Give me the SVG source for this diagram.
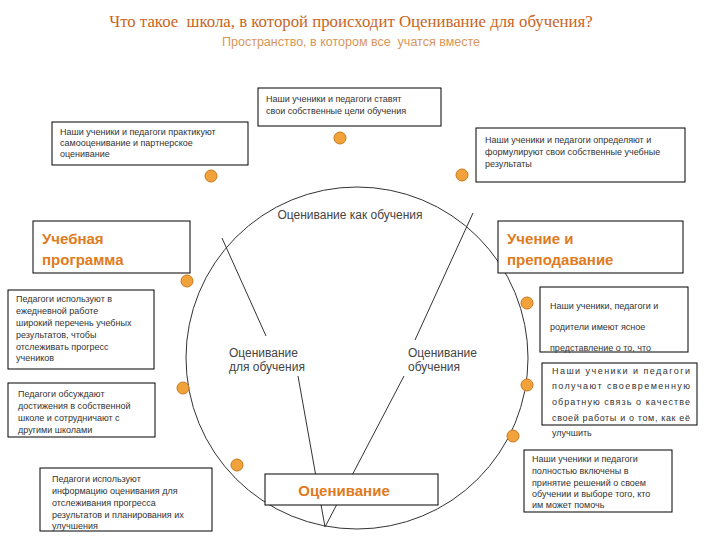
<svg xmlns="http://www.w3.org/2000/svg" width="720" height="540" viewBox="0 0 720 540">
<style>
.box{fill:#fff;stroke:#000;stroke-width:1}
.t{font-family:"Liberation Sans",Arial,sans-serif;font-size:9px;fill:#333}
.h{font-family:"Liberation Sans",Arial,sans-serif;font-size:15px;font-weight:bold;fill:#E07B20}
.c{font-family:"Liberation Sans",Arial,sans-serif;font-size:12px;fill:#444}
.dot{fill:#F2A23A;stroke:#C8781A;stroke-width:1}
.ln{stroke:#333;stroke-width:1;fill:none}
</style>
<rect width="720" height="540" fill="#fff"/>
<g id="title">
<text xml:space="preserve" x="351" y="27" text-anchor="middle" font-family="Liberation Serif,serif" font-size="16.8" fill="#C8641E">Что такое  школа, в которой происходит Оценивание для обучения?</text>
<text xml:space="preserve" x="351" y="46" text-anchor="middle" font-family="Liberation Sans,sans-serif" font-size="12.5" fill="#D9955A">Пространство, в котором все  учатся вместе</text>
</g>
<g id="circle">
<circle cx="357" cy="358" r="171" fill="none" stroke="#333" stroke-width="1"/>
</g>
<g id="connectors">
<line class="ln" x1="222" y1="238" x2="266" y2="336"/>
<line class="ln" x1="298" y1="376" x2="325" y2="527"/>
<line class="ln" x1="473" y1="213" x2="415" y2="340"/>
<line class="ln" x1="404" y1="376" x2="325" y2="527"/>
</g>
<g id="circle-labels">
<text class="c" x="350" y="219" text-anchor="middle">Оценивание как обучения</text>
<text class="c" x="229" y="357">Оценивание</text>
<text class="c" x="229" y="371">для обучения</text>
<text class="c" x="408" y="357">Оценивание</text>
<text class="c" x="408" y="371">обучения</text>
</g>
<g id="dots">
<circle class="dot" cx="340" cy="138" r="6"/>
<circle class="dot" cx="211" cy="176" r="6"/>
<circle class="dot" cx="462" cy="175" r="6"/>
<circle class="dot" cx="187" cy="281" r="6"/>
<circle class="dot" cx="527" cy="303" r="6"/>
<circle class="dot" cx="183" cy="388" r="6"/>
<circle class="dot" cx="527" cy="385" r="6"/>
<circle class="dot" cx="237" cy="465" r="6"/>
<circle class="dot" cx="513" cy="436" r="6"/>
</g>
<g id="n-top">
<rect class="box" x="258" y="88" width="183" height="38"/>
<text class="t" x="266" y="102">Наши ученики и педагоги ставят</text>
<text class="t" x="266" y="114">свои собственные цели обучения</text>
</g>
<g id="n-topleft">
<rect class="box" x="52" y="122" width="196" height="43"/>
<text class="t" x="60" y="135">Наши ученики и педагоги практикуют</text>
<text class="t" x="60" y="146">самооценивание и партнерское</text>
<text class="t" x="60" y="157">оценивание</text>
</g>
<g id="n-topright">
<rect class="box" x="476" y="128" width="209" height="54"/>
<text class="t" x="485" y="143">Наши ученики и педагоги определяют и</text>
<text class="t" x="485" y="155">формулируют свои собственные учебные</text>
<text class="t" x="485" y="167">результаты</text>
</g>
<g id="n-curriculum">
<rect class="box" x="33" y="221" width="157" height="52"/>
<text class="h" x="42" y="244">Учебная</text>
<text class="h" x="42" y="265">программа</text>
</g>
<g id="n-teaching">
<rect class="box" x="498" y="221" width="185" height="52"/>
<text class="h" x="507" y="244">Учение и</text>
<text class="h" x="507" y="265">преподавание</text>
</g>
<g id="n-left1">
<rect class="box" x="8" y="290" width="146" height="79"/>
<text class="t" x="16" y="302">Педагоги используют в</text>
<text class="t" x="16" y="314">ежедневной работе</text>
<text class="t" x="16" y="326">широкий перечень учебных</text>
<text class="t" x="16" y="338">результатов, чтобы</text>
<text class="t" x="16" y="350">отслеживать прогресс</text>
<text class="t" x="16" y="361">учеников</text>
</g>
<g id="n-right1">
<rect class="box" x="540" y="287" width="148" height="65"/>
<text class="t" x="550" y="309">Наши ученики, педагоги и</text>
<text class="t" x="550" y="330">родители имеют ясное</text>
<text class="t" x="550" y="351">представление о то, что</text>
</g>
<g id="n-left2">
<rect class="box" x="8" y="383" width="147" height="54"/>
<text class="t" x="18" y="397">Педагоги обсуждают</text>
<text class="t" x="18" y="409">достижения в собственной</text>
<text class="t" x="18" y="421">школе и сотрудничают с</text>
<text class="t" x="18" y="433">другими школами</text>
</g>
<g id="n-right2">
<rect class="box" x="542" y="363" width="155" height="62"/>
<text class="t" x="552" y="374" textLength="138" lengthAdjust="spacing">Наши ученики и педагоги</text>
<text class="t" x="552" y="389" textLength="138" lengthAdjust="spacing">получают своевременную</text>
<text class="t" x="552" y="405" textLength="138" lengthAdjust="spacing">обратную связь о качестве</text>
<text class="t" x="552" y="421" textLength="138" lengthAdjust="spacing">своей работы и о том, как её</text>
<text class="t" x="552" y="436">улучшить</text>
</g>
<g id="n-bottomleft">
<rect class="box" x="40" y="468" width="172" height="63"/>
<text class="t" x="52" y="482">Педагоги используют</text>
<text class="t" x="52" y="494">информацию оценивания для</text>
<text class="t" x="52" y="506">отслеживания прогресса</text>
<text class="t" x="52" y="518">результатов и планирования их</text>
<text class="t" x="52" y="529">улучшения</text>
</g>
<g id="n-bottomright">
<rect class="box" x="524" y="450" width="148" height="62"/>
<text class="t" x="532" y="462">Наши ученики и педагоги</text>
<text class="t" x="532" y="474">полностью включены в</text>
<text class="t" x="532" y="486">принятие решений о своем</text>
<text class="t" x="532" y="497">обучении и выборе того, кто</text>
<text class="t" x="532" y="508">им может помочь</text>
</g>
<g id="n-assessment">
<rect class="box" x="265" y="474" width="173" height="31"/>
<text class="h" x="344" y="496" text-anchor="middle">Оценивание</text>
</g>
</svg>
